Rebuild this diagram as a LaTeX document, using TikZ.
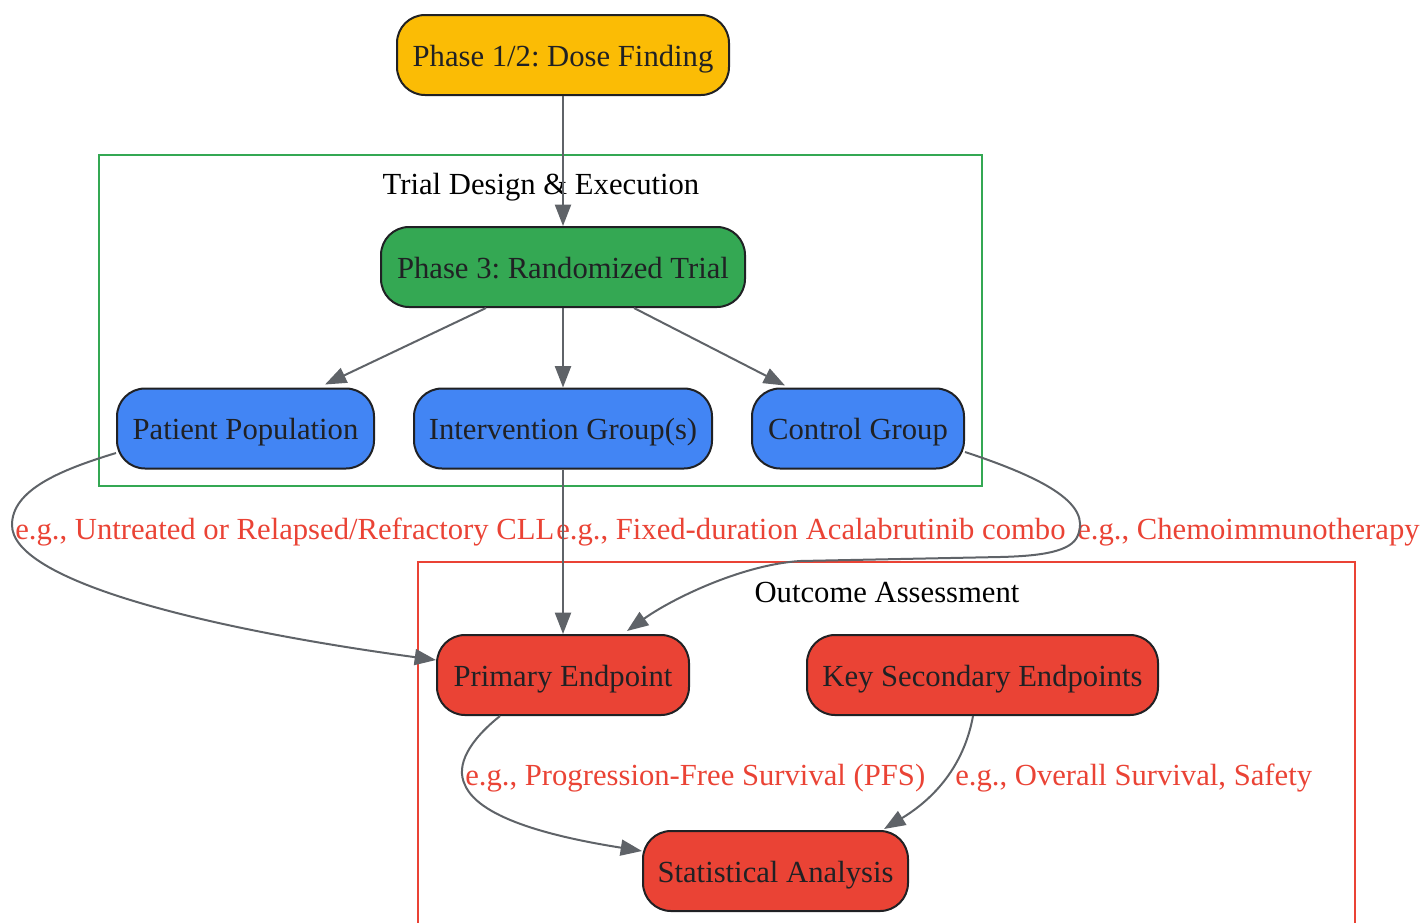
\documentclass[tikz,border=0pt]{standalone}
\usepackage{fontspec}
\setmainfont{Liberation Serif}
\usetikzlibrary{arrows.meta,calc}
\definecolor{gyellow}{HTML}{FBBC05}
\definecolor{ggreen}{HTML}{34A853}
\definecolor{gblue}{HTML}{4285F4}
\definecolor{gred}{HTML}{EA4335}
\definecolor{edgegray}{HTML}{5F6368}
\definecolor{txtdark}{HTML}{202124}
\tikzset{
  txt/.style={font=\fontsize{23}{27}\selectfont\frenchspacing, text height=17pt, text depth=0pt},
  box/.style={txt, draw=txtdark, line width=1.5pt, rounded corners=21pt, minimum height=60pt,
    inner sep=0pt, text=txtdark},
  conn/.style={draw=edgegray, line width=1.5pt, -{Triangle[length=16pt,width=12pt]}},
  elabel/.style={txt, text=gred, inner sep=0pt, anchor=west},
  clabel/.style={txt, text=black, inner sep=0pt},
  cluster/.style={line width=1.5pt}
}
\begin{document}
\begin{tikzpicture}[x=0.75pt,y=-0.75pt]
\useasboundingbox (0,0) rectangle (1428,922);
% clusters
\draw[cluster, draw=ggreen] (99,155) rectangle (982,486);
\node[clabel] (cl1) at (541,183) {Trial Design \& Execution};
\draw[cluster, draw=gred] (418,562) rectangle (1355,960);
\node[clabel] (cl2) at (887,591) {Outcome Assessment};
% nodes
\node[box, fill=gyellow, minimum width=249pt] (p12) at (563,55) {Phase 1/2: Dose Finding};
\node[box, fill=ggreen, minimum width=273pt] (p3) at (563,267) {Phase 3: Randomized Trial};
\node[box, fill=gblue, minimum width=192.75pt] (pp) at (245.5,428.5) {Patient Population};
\node[box, fill=gblue, minimum width=223.5pt] (ig) at (563,428.5) {Intervention Group(s)};
\node[box, fill=gblue, minimum width=159pt] (cg) at (858,428.5) {Control Group};
\node[box, fill=gred, minimum width=189pt] (pe) at (563,675) {Primary Endpoint};
\node[box, fill=gred, minimum width=263.25pt] (ks) at (982.5,675) {Key Secondary Endpoints};
\node[box, fill=gred, minimum width=198.75pt] (sa) at (775.5,871) {Statistical Analysis};
% edge labels
\node[elabel] (l1) at (15,528) {e.g., Untreated or Relapsed/Refractory CLL};
\node[elabel] (l2) at (556,528) {e.g., Fixed-duration Acalabrutinib combo};
\node[elabel] (l3) at (1077,528) {e.g., Chemoimmunotherapy};
\node[elabel] (l4) at (465,774) {e.g., Progression-Free Survival (PFS)};
\node[elabel] (l5) at (955,774) {e.g., Overall Survival, Safety};
% edges
\draw[conn] (p12.south) -- (p3.north);
\draw[conn] ($(p3.south)+(-77,0)$) -- ($(pp.north)+(79.5,-3)$);
\draw[conn] (p3.south) -- (ig.north);
\draw[conn] ($(p3.south)+(71,0)$) -- ($(cg.north)+(-73,-2)$);
\draw[conn] ($(pp.west)+(0,24.5)$) .. controls (60,470) and (12,490) .. (12,525)
   .. controls (12,580) and (200,628) .. ($(pe.west)+(0,-15)$);
\draw[conn] (ig.south) -- (pe.north);
\draw[conn] ($(cg.east)+(0,23.5)$) .. controls (1050,480) and (1090,505) .. (1078,535)
   .. controls (1072,552) and (1040,556) .. (1000,557) -- (800,561)
   .. controls (740,565) and (670,600) .. ($(pe.north)+(64,-3)$);
\draw[conn] ($(pe.south)+(-63,0)$) .. controls (470,740) and (455,765) .. (465,785)
   .. controls (480,820) and (560,838) .. ($(sa.west)+(0,-20)$);
\draw[conn] ($(ks.south)+(-9.5,0)$) .. controls (965,760) and (940,795) .. ($(sa.north)+(108.5,-1)$);
\end{tikzpicture}
\end{document}
